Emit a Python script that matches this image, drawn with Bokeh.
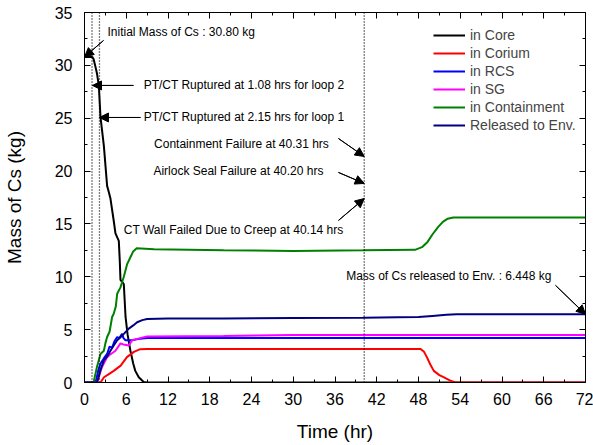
from bokeh.plotting import figure
from bokeh.models import (Range1d, SingleIntervalTicker, LinearAxis, Span, Arrow,
                          NormalHead, Label, Legend, LegendItem, CustomJSTickFormatter)
from bokeh.embed import file_html
from bokeh.resources import INLINE

FONT = "Liberation Sans"

# ---------------- data ----------------
core_t = [0, 1.1, 1.3, 1.6, 1.8, 2.06, 2.3, 2.78, 3.25, 3.5, 3.73, 4.2, 4.45, 4.93, 5.07,
          5.17, 5.65, 5.9, 6.2, 6.6, 7.0, 7.3, 7.8, 8.5, 9.0, 72]
core_y = [30.8, 30.8, 30.6, 29.8, 29.2, 28.1, 25.1, 22.4, 18.6, 18.0, 17.4, 15.3, 14.1, 13.4, 11.5,
          9.7, 9.3, 6.2, 4.5, 3.0, 1.8, 1.1, 0.5, 0.05, 0.0, 0.0]

corium_t = [0, 2.3, 2.8, 3.5, 4.2, 5.2, 6.1, 7.1, 8.0, 9.0, 48.3, 48.8, 49.2, 49.7, 50.2,
            51.0, 51.6, 52.5, 53.3, 72]
corium_y = [0, 0, 0.5, 0.8, 1.1, 1.6, 2.4, 2.9, 3.15, 3.17, 3.17, 2.9, 2.4, 1.7, 1.1,
            0.7, 0.5, 0.2, 0.0, 0.0]

rcs_t = [0, 1.6, 2.0, 2.3, 2.8, 3.25, 3.6, 3.97, 4.3, 4.7, 5.0, 5.4, 5.6, 5.9, 6.85, 8.0, 9.0, 72]
rcs_y = [0, 0, 1.2, 1.8, 2.3, 2.7, 3.4, 3.3, 3.9, 4.3, 4.2, 4.6, 4.2, 4.0, 4.0, 4.15, 4.2, 4.2]

sg_t = [0, 1.8, 2.5, 3.25, 3.6, 4.45, 5.17, 5.6, 6.37, 6.85, 8.0, 9.0, 20, 30, 72]
sg_y = [0, 0, 1.45, 2.4, 2.6, 3.0, 3.7, 3.6, 3.5, 4.0, 4.2, 4.35, 4.4, 4.5, 4.5]

cont_t = [0, 1.3, 1.8, 2.3, 2.78, 3.0, 3.25, 3.6, 3.97, 4.2, 4.5, 4.7, 5.17, 5.65, 6.13,
          6.6, 7.0, 7.5, 10, 20, 30, 40, 47.5, 48.5, 49.3, 50.0, 50.8, 51.5, 52.2, 53, 72]
cont_y = [0, 0, 1.5, 2.7, 3.0, 3.7, 4.3, 4.8, 6.2, 6.5, 7.2, 8.4, 9.0, 10.0, 11.2,
          11.85, 12.4, 12.7, 12.6, 12.5, 12.45, 12.5, 12.55, 12.8, 13.3, 14.0, 14.7, 15.2, 15.5, 15.6, 15.6]

env_t = [0, 1.8, 2.3, 2.78, 3.3, 3.73, 4.2, 4.7, 5.2, 5.65, 6.37, 7.0, 7.57, 8.3, 9.0,
         12, 20, 30, 40, 45, 48, 50, 52, 53.5, 72]
env_y = [0, 0, 1.2, 2.1, 2.5, 3.0, 3.5, 4.0, 4.3, 4.6, 5.1, 5.4, 5.7, 5.9, 6.0,
         6.05, 6.05, 6.1, 6.12, 6.18, 6.2, 6.3, 6.4, 6.45, 6.448]

series_names = ["in Core", "in Corium", "in RCS", "in SG", "in Containment", "Released to Env."]
series_colors = ["black", "#ff0000", "#0000ff", "#ff00ff", "#008000", "#000080"]

event_times = [1.08, 2.15, 40.2]

note_texts = ["Initial Mass of Cs : 30.80 kg",
              "PT/CT Ruptured at 1.08 hrs for loop 2",
              "PT/CT Ruptured at 2.15 hrs for loop 1",
              "Containment Failure at 40.31 hrs",
              "Airlock Seal Failure at 40.20 hrs",
              "CT Wall Failed Due to Creep at 40.14 hrs",
              "Mass of Cs released to Env. : 6.448 kg"]
note_x = [3.3, 8.5, 8.5, 10.0, 9.9, 5.65, 37.6]
note_y = [33.2, 28.1, 25.07, 22.58, 20.0, 14.38, 10.1]
arrow_x0 = [2.73, 7.04, 8.05, 36.5, 36.5, 36.5, 67.7]
arrow_y0 = [32.35, 28.1, 25.07, 23.08, 19.87, 15.33, 9.18]
arrow_x1 = [0.0, 1.15, 2.15, 40.2, 40.2, 40.2, 72.0]
arrow_y1 = [30.8, 28.1, 25.07, 21.38, 18.83, 17.4, 6.45]

# ---------------- figure ----------------
p = figure(width=593, height=445, output_backend="svg", toolbar_location=None,
           x_range=Range1d(0, 72), y_range=Range1d(0, 35),
           min_border_left=84, min_border_right=8, min_border_top=12, min_border_bottom=63,
           x_axis_label="Time (hr)", y_axis_label="Mass of Cs (kg)")
p.grid.visible = False
p.outline_line_color = "black"
p.outline_line_width = 1
p.background_fill_color = "white"
p.border_fill_color = "white"

p.xaxis.ticker = SingleIntervalTicker(interval=6, num_minor_ticks=2)
p.yaxis.ticker = SingleIntervalTicker(interval=5, num_minor_ticks=2)

for ax in [p.xaxis[0], p.yaxis[0]]:
    ax.major_tick_in = 6
    ax.major_tick_out = 0
    ax.minor_tick_in = 3
    ax.minor_tick_out = 0
    ax.axis_line_color = "black"
    ax.major_tick_line_color = "black"
    ax.minor_tick_line_color = "black"
    ax.major_label_text_font = FONT
    ax.major_label_text_font_size = "16px"
    ax.major_label_text_color = "black"
    ax.axis_label_text_font = FONT
    ax.axis_label_text_font_size = "19px"
    ax.axis_label_text_font_style = "normal"
    ax.axis_label_text_color = "black"

p.xaxis.major_label_standoff = 10
p.xaxis.axis_label_standoff = 13
p.yaxis.major_label_standoff = 12
p.yaxis.axis_label_standoff = 27

blank = CustomJSTickFormatter(code="return '';")
for ticker, loc in [(SingleIntervalTicker(interval=6, num_minor_ticks=2), "above"),
                    (SingleIntervalTicker(interval=5, num_minor_ticks=2), "right")]:
    ax = LinearAxis(ticker=ticker, formatter=blank, major_tick_in=6, major_tick_out=0,
                    minor_tick_in=3, minor_tick_out=0, major_label_standoff=0,
                    axis_line_color="black")
    p.add_layout(ax, loc)

# event lines
for t in event_times:
    p.add_layout(Span(location=t, dimension="height", line_color="black",
                      line_dash="1 2", line_width=1.3))

# curves
all_t = [core_t, corium_t, rcs_t, sg_t, cont_t, env_t]
all_y = [core_y, corium_y, rcs_y, sg_y, cont_y, env_y]
renderers = []
for t, y, c in zip(all_t, all_y, series_colors):
    r = p.line(t, y, line_color=c, line_width=2)
    renderers.append(r)

legend = Legend(items=[LegendItem(label=n, renderers=[r]) for n, r in zip(series_names, renderers)],
                location=(349, 248), border_line_color=None, background_fill_alpha=0,
                padding=0, margin=0, spacing=0, label_height=18, glyph_height=18,
                glyph_width=32, label_standoff=5,
                label_text_font=FONT, label_text_font_size="14px")
p.add_layout(legend)

# annotations
for tx, x, y in zip(note_texts, note_x, note_y):
    p.add_layout(Label(x=x, y=y, text=tx, text_font=FONT, text_font_size="12px",
                       text_baseline="middle", text_align="left", text_color="black"))
p.segment(x0=arrow_x0, y0=arrow_y0, x1=arrow_x1, y1=arrow_y1, line_color="black", line_width=1)
for x0, y0, x1, y1 in zip(arrow_x0, arrow_y0, arrow_x1, arrow_y1):
    p.add_layout(Arrow(x_start=x0, y_start=y0, x_end=x1, y_end=y1,
                       line_color="black", line_width=1,
                       end=NormalHead(size=9, fill_color="black", line_color="black")))

open("out.html", "w").write(file_html(p, INLINE))
